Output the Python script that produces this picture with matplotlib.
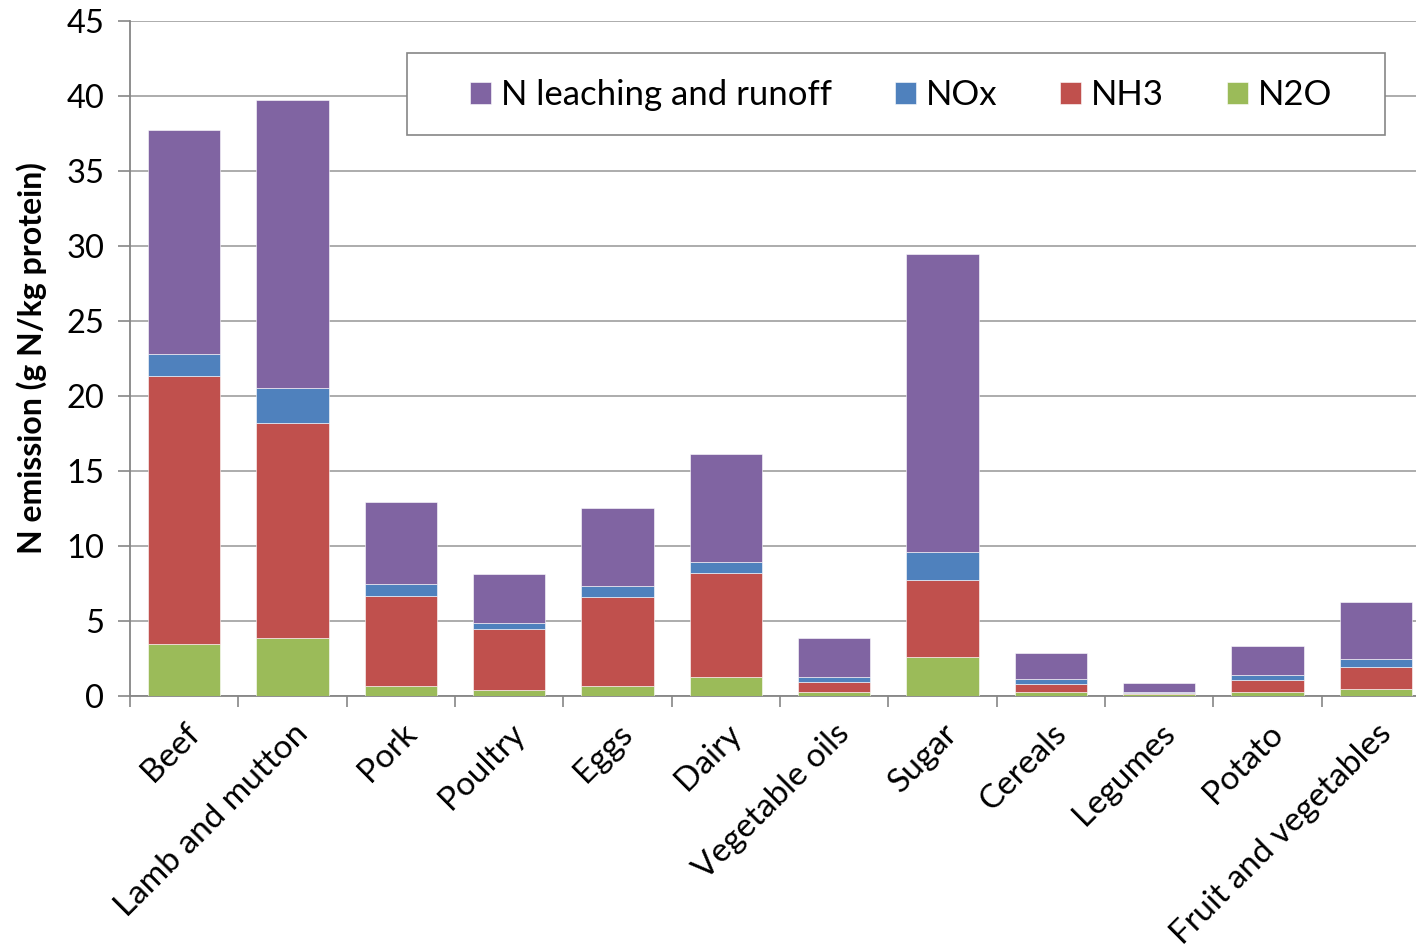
import numpy as np
import matplotlib.pyplot as plt
from matplotlib.patches import Rectangle

plt.rcParams['font.family'] = ['Lato', 'DejaVu Sans']

# Nitrogen emissions per food group (g N / kg protein), stacked bottom to top.
foods = ["Beef", "Lamb and mutton", "Pork", "Poultry", "Eggs", "Dairy",
         "Vegetable oils", "Sugar", "Cereals", "Legumes", "Potato",
         "Fruit and vegetables"]
n2o = [3.5, 3.9, 0.7, 0.38, 0.69, 1.27, 0.27, 2.62, 0.27, 0.16, 0.27, 0.49]
nh3 = [17.85, 14.3, 6.0, 4.06, 5.89, 6.91, 0.66, 5.11, 0.55, 0.06, 0.77, 1.44]
nox = [1.45, 2.35, 0.78, 0.45, 0.78, 0.78, 0.34, 1.89, 0.31, 0.05, 0.36, 0.51]
leach = [14.9, 19.15, 5.42, 3.26, 5.19, 7.19, 2.6, 19.85, 1.71, 0.57, 1.91, 3.8]

series = [("N2O", n2o, "#9BBB59"),
          ("NH3", nh3, "#C0504D"),
          ("NOx", nox, "#4F81BD"),
          ("N leaching and runoff", leach, "#8064A2")]

W, H = 1416, 947
fig = plt.figure(figsize=(W / 100, H / 100), dpi=100)
ax = fig.add_axes([130 / W, 1 - 696 / H, 1300 / W, 675 / H])

x = np.arange(len(foods))
bottom = np.zeros(len(foods))
handles = {}
for name, vals, color in series:
    bars = ax.bar(x, vals, width=0.667, bottom=bottom, color=color,
                  edgecolor="white", linewidth=0.4, zorder=3)
    handles[name] = bars
    bottom += np.array(vals)

ax.set_xlim(-0.5, len(foods) - 0.5)
ax.set_ylim(0, 45)
ax.set_yticks(range(0, 46, 5))
ax.yaxis.grid(True, color="#a6a6a6", linewidth=1.3, zorder=0)
ax.tick_params(axis="y", labelsize=23.5, length=8.5, width=1.2,
               color="#868686", direction="out", pad=10)

# category boundary ticks on the x axis
ax.set_xticks(np.arange(len(foods) + 1) - 0.5)
ax.set_xticklabels([])
ax.tick_params(axis="x", which="major", length=8, width=1.2, color="#868686")
ax.set_xticks(x, minor=True)
ax.set_xticklabels(foods, minor=True, rotation=45, ha="right",
                   rotation_mode="anchor", fontsize=24)
ax.tick_params(axis="x", which="minor", length=0, pad=16)

for side in ["top", "right"]:
    ax.spines[side].set_visible(False)
for side in ["left", "bottom"]:
    ax.spines[side].set_color("#868686")
    ax.spines[side].set_linewidth(1.3)

ax.set_ylabel("N emission (g N/kg protein)", fontsize=23, fontweight="bold")
ax.yaxis.set_label_coords(-0.064, 0.5)

# white legend box drawn separately so the padding can be set freely
ax.add_patch(Rectangle((407 / W, 1 - 135 / H), 978 / W, 82 / H,
                       transform=fig.transFigure, facecolor="white",
                       edgecolor="#868686", linewidth=1.2, zorder=5,
                       clip_on=False))
order = ["N leaching and runoff", "NOx", "NH3", "N2O"]
leg = ax.legend([handles[k] for k in order], order, ncol=4, fontsize=25,
                loc="center left", bbox_to_anchor=(470 / W, 1 - 95 / H),
                bbox_transform=fig.transFigure, frameon=False,
                handlelength=0.6, handleheight=0.6, handletextpad=0.3,
                columnspacing=1.8, borderpad=0, borderaxespad=0)
leg.set_zorder(6)

fig.savefig("out.png", dpi=100)
